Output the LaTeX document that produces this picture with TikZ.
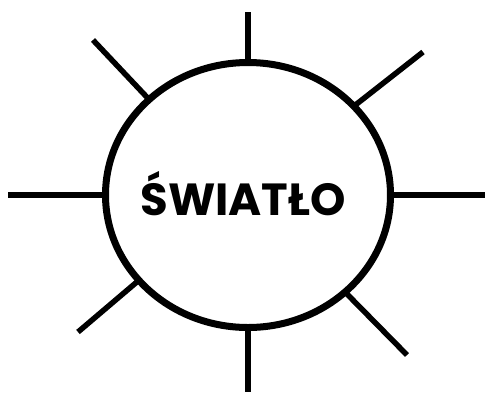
\documentclass[tikz,border=0pt]{standalone}
\usepackage{fontspec}
\setmainfont{Poppins}
\usetikzlibrary{shapes.geometric}

\begin{document}
\begin{tikzpicture}[
    x=1pt, y=-1pt,
    sunbody/.style={
        draw,
        ellipse,
        line width=7pt,
        inner sep=0pt,
        outer sep=0pt,
        minimum width=285pt,
        minimum height=265pt
    },
    ray/.style={
        line width=5.5pt
    },
    word/.style={
        font=\fontsize{45}{50}\selectfont\bfseries
    }
]

    \useasboundingbox (0, 0) rectangle (485, 392);

    % Sole
    \node[sunbody] (sole) at (248, 195) {};
    \node[word] (scritta) at (243, 194) {ŚWIATŁO};

    % Estremi dei raggi
    \coordinate (r_n)  at (248, 12);
    \coordinate (r_s)  at (248, 392);
    \coordinate (r_w)  at (8, 195);
    \coordinate (r_e)  at (485, 195);
    \coordinate (r_nw) at (93, 40);
    \coordinate (r_ne) at (423, 52);
    \coordinate (r_sw) at (78, 332);
    \coordinate (r_se) at (407, 355);

    % Raggi
    \draw[ray] (sole.north) -- (r_n);
    \draw[ray] (sole.south) -- (r_s);
    \draw[ray] (sole.west) -- (r_w);
    \draw[ray] (sole.east) -- (r_e);
    \draw[ray] (sole.136) -- (r_nw);
    \draw[ray] (sole.40) -- (r_ne);
    \draw[ray] (sole.218) -- (r_sw);
    \draw[ray] (sole.-45) -- (r_se);

\end{tikzpicture}
\end{document}
